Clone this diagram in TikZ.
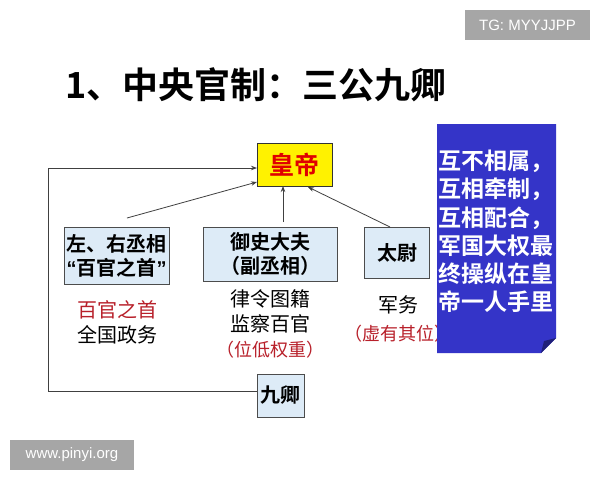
\documentclass[tikz,border=0pt]{standalone}
\usepackage{fontspec}
\setmainfont{Noto Sans CJK SC}[BoldFont={Noto Sans CJK SC Bold}]
\newfontfamily\latinsans{Liberation Sans}
\usetikzlibrary{arrows.meta}
\definecolor{boxblue}{HTML}{DDEBF7}
\definecolor{deepblue}{HTML}{3434C8}
\definecolor{hdred}{HTML}{E00000}
\definecolor{notered}{HTML}{B8202A}
\definecolor{wmgray}{HTML}{A6A6A6}
\tikzset{
  officebox/.style={draw=black!70, line width=0.8pt, fill=boxblue, align=center, inner sep=0pt, font=\fontsize{20}{24}\selectfont\bfseries},
  conn/.style={draw=black!75, line width=0.8pt},
  arr/.style={conn, -{Stealth[length=6pt,width=4.5pt]}},
  note/.style={align=center, font=\fontsize{20}{25}\selectfont},
  wm/.style={fill=wmgray, text=white, inner sep=0pt, font=\latinsans\fontsize{15}{18}\selectfont}
}
\begin{document}
\begin{tikzpicture}[x=1pt,y=-1pt]
\fill[white] (0,0) rectangle (600,480);
\useasboundingbox (0,0) rectangle (600,480);
% watermarks
\node[wm, minimum width=125, minimum height=30] (tg) at (527.5,25) {TG: MYYJJPP};
\node[wm, minimum width=124, minimum height=30] (www) at (72,455) {www.pinyi.org};
% title
\node[anchor=west, font=\fontsize{36}{40}\selectfont\bfseries, inner sep=0pt] (title) at (65,85) {1、中央官制：三公九卿};
% emperor
\node[draw=black!80, line width=1pt, fill=yellow, minimum width=75, minimum height=43, inner sep=0pt,
      text=hdred, font=\fontsize{25}{28}\selectfont\bfseries] (hd) at (294.5,164.5) {皇帝};
% three lords
\node[officebox, minimum width=105, minimum height=57] (cx) at (116.5,256) {左、右丞相\\{\latinsans\bfseries “}百官之首{\latinsans\bfseries ”}};
\node[officebox, minimum width=134, minimum height=54] (ys) at (270,254) {御史大夫\\（副丞相）};
\node[officebox, minimum width=65, minimum height=51] (tw) at (397,252.5) {太尉};
\node[officebox, minimum width=47, minimum height=43] (jq) at (280.5,395.5) {九卿};
% notes
\node[note] (n1) at (117,322) {\textcolor{notered}{百官之首}\\全国政务};
\node[note] (n2) at (270,324) {律令图籍\\监察百官\\\textcolor{notered}{\fontsize{18}{22}\selectfont （位低权重）}};
\node[note] (n3) at (398,319) {军务\\[3pt]\textcolor{notered}{\fontsize{18}{22}\selectfont （虚有其位）}};
% blue panel with folded corner
\fill[deepblue] (437,124) -- (556,124) -- (556,338) -- (541,353) -- (437,353) -- cycle;
\fill[deepblue!60!black] (556,338) -- (541,353) -- (544,341) -- cycle;
\node[anchor=north west, text=white, align=left, inner sep=0pt,
      font=\fontsize{23}{28.2}\selectfont\bfseries] (panel) at (438,150) {互不相属，\\互相牵制，\\互相配合，\\军国大权最\\终操纵在皇\\帝一人手里};
% connectors
\coordinate (a1) at (127,218);
\coordinate (a2) at (283,222);
\coordinate (h1) at (257,182);
\coordinate (h2) at (283,186);
\coordinate (h3) at (308,187);
\coordinate (t1) at (390,227);
\coordinate (hw) at (257,168);
\coordinate (lc) at (48,391);
\draw[arr] (a1) -- (h1);
\draw[arr] (a2) -- (h2);
\draw[arr] (t1) -- (h3);
\draw[arr] (lc -| jq.west) -- (lc) |- (hw);
\end{tikzpicture}
\end{document}
